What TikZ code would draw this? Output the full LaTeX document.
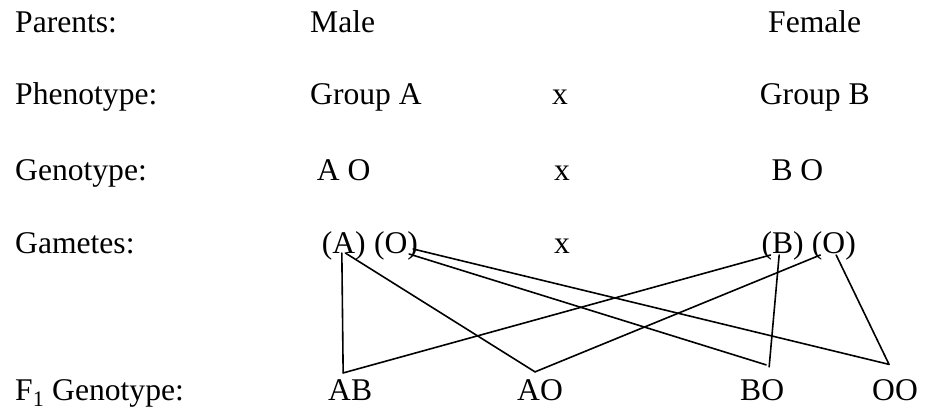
\documentclass[tikz,border=0pt]{standalone}
\usepackage{fontspec}
\setmainfont{Liberation Serif}

\begin{document}
\begin{tikzpicture}[
    x=1pt, y=-1pt,
    lbl/.style={anchor=base west, inner sep=0pt,
                font=\fontsize{31.6}{38}\selectfont},
    gam/.style={lbl},
    kid/.style={lbl},
    link/.style={line width=1.6pt, line cap=round}
]
  \useasboundingbox (0,0) rectangle (928,409);

  % row labels
  \node[lbl] (parents) at (15,33)  {Parents:};
  \node[lbl] (pheno)   at (15,105) {Phenotype:};
  \node[lbl] (geno)    at (15,180) {Genotype:};
  \node[lbl] (gamet)   at (15,253) {Gametes:};
  \node[lbl] (fone)    at (15,400) {F\textsubscript{1} Genotype:};

  % parents
  \node[lbl] (male)   at (310,33)   {Male};
  \node[lbl] (female) at (768,33)   {Female};
  \node[lbl] (grpA)   at (310,105)  {Group A};
  \node[lbl] (xph)    at (552,105)  {x};
  \node[lbl] (grpB)   at (759.7,105) {Group B};
  \node[lbl] (genA)   at (316.7,180) {A O};
  \node[lbl] (xge)    at (554,180)  {x};
  \node[lbl] (genB)   at (771.3,180) {B O};

  % gametes
  \node[gam] (gA)  at (321.7,253) {(A)};
  \node[gam, xshift=7.9pt] (gOm) at (gA.base east) {(O)};
  \node[lbl] (xga) at (554,253) {x};
  \node[gam] (gB)  at (761.3,253) {(B)};
  \node[gam, xshift=7.9pt] (gOf) at (gB.base east) {(O)};

  % offspring
  \node[kid] (AB) at (328,400) {AB};
  \node[kid] (AO) at (517,400) {AO};
  \node[kid] (BO) at (740,400) {BO};
  \node[kid] (OO) at (872,400) {OO};

  \coordinate (ABtop) at ([xshift=-7pt, yshift=6pt]AB.north);
  \coordinate (AOtop) at ([xshift=-5pt, yshift=7pt]AO.north);
  \coordinate (OOtop) at ([xshift=-6pt, yshift=14.5pt]OO.north);

  \draw[link] ([xshift=-2pt]gA.base) -- (ABtop);
  \draw[link] ([xshift=1.5pt]gA.base) -- (AOtop);
  \draw[link] ([xshift=-9pt, yshift=-1pt]gOm.base east) -- ([xshift=4pt, yshift=14pt]BO.north);
  \draw[link] ([xshift=-5pt, yshift=4pt]gOm.base east) -- (OOtop);
  \draw[link] ([xshift=-12pt, yshift=-2pt]gB.base) -- (ABtop);
  \draw[link] ([xshift=-3.4pt, yshift=-2pt]gB.base) -- ([xshift=7pt, yshift=12pt]BO.north);
  \draw[link] ([xshift=-13.5pt, yshift=-2pt]gOf.base) -- (AOtop);
  \draw[link] ([xshift=2.3pt, yshift=-2pt]gOf.base) -- (OOtop);
\end{tikzpicture}
\end{document}
